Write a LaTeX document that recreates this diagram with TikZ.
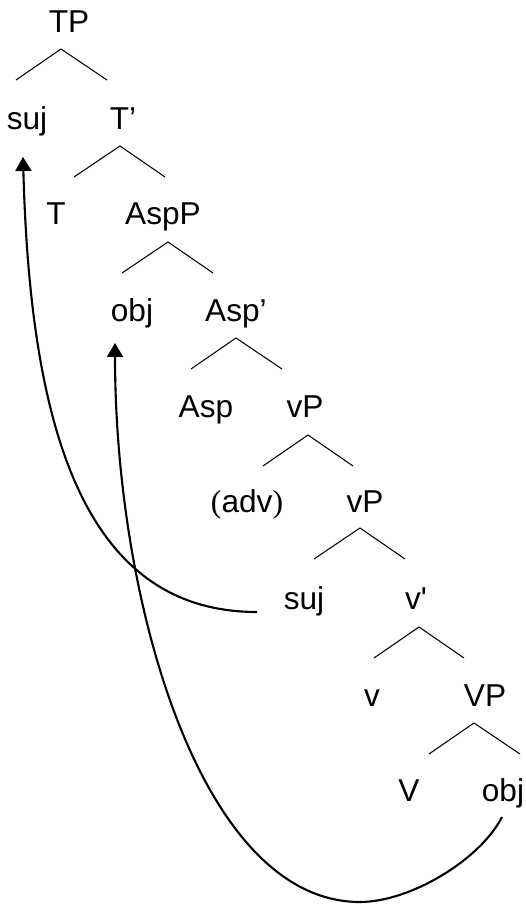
\documentclass[tikz,border=0pt]{standalone}
\usepackage[svgnames]{xcolor}
\usepackage{fontspec}
\setmainfont{Liberation Sans}
\newfontfamily\parfont{Liberation Serif}
\usepackage{tikz}
\usetikzlibrary{arrows.meta}
\tikzstyle{none}=[inner sep=0pt]
\tikzstyle{word}=[inner sep=0pt,anchor=base,font=\fontsize{18}{22}\selectfont]
\tikzstyle{simple}=[-,draw=Black,line width=0.6pt]
\tikzstyle{move}=[-{Triangle[width=0.32cm,length=0.28cm]},draw=Black,line width=1.2pt]

\begin{document}
\begin{tikzpicture}
  \useasboundingbox (0, 0) rectangle (10.52, 18.18);
  \node [style=word] (0) at (1.38, 17.52) {TP};
  \node [style=none] (1) at (1.22, 17.20) {};
  \node [style=none] (2) at (0.32, 16.58) {};
  \node [style=none] (3) at (2.14, 16.58) {};
  \node [style=word] (4) at (0.54, 15.58) {suj};
  \node [style=word] (5) at (2.46, 15.58) {T’};
  \node [style=none] (6) at (2.40, 15.26) {};
  \node [style=none] (7) at (1.48, 14.64) {};
  \node [style=none] (8) at (3.30, 14.64) {};
  \node [style=word] (9) at (1.12, 13.68) {T};
  \node [style=word] (10) at (3.26, 13.68) {AspP};
  \node [style=none] (11) at (3.36, 13.34) {};
  \node [style=none] (12) at (2.44, 12.72) {};
  \node [style=none] (13) at (4.26, 12.72) {};
  \node [style=word] (14) at (2.64, 11.74) {obj};
  \node [style=word] (15) at (4.72, 11.74) {Asp’};
  \node [style=none] (16) at (4.72, 11.42) {};
  \node [style=none] (17) at (3.82, 10.80) {};
  \node [style=none] (18) at (5.64, 10.80) {};
  \node [style=word] (19) at (4.12, 9.82) {Asp};
  \node [style=word] (20) at (6.10, 9.82) {vP};
  \node [style=none] (21) at (6.16, 9.48) {};
  \node [style=none] (22) at (5.26, 8.86) {};
  \node [style=none] (23) at (7.06, 8.86) {};
  \node [style=word] (24) at (4.94, 7.92) {{\parfont(}adv{\parfont)}};
  \node [style=word] (25) at (7.30, 7.92) {vP};
  \node [style=none] (26) at (7.20, 7.62) {};
  \node [style=none] (27) at (6.28, 7.00) {};
  \node [style=none] (28) at (8.10, 7.00) {};
  \node [style=word] (29) at (6.08, 5.98) {suj};
  \node [style=word] (30) at (8.32, 5.98) {v\textquotesingle};
  \node [style=none] (31) at (8.38, 5.64) {};
  \node [style=none] (32) at (7.48, 5.02) {};
  \node [style=none] (33) at (9.28, 5.02) {};
  \node [style=word] (34) at (7.44, 4.04) {v};
  \node [style=word] (35) at (9.70, 4.04) {VP};
  \node [style=none] (36) at (9.48, 3.72) {};
  \node [style=none] (37) at (8.58, 3.10) {};
  \node [style=none] (38) at (10.40, 3.10) {};
  \node [style=word] (39) at (8.18, 2.14) {V};
  \node [style=word] (40) at (10.06, 2.14) {obj};
  \node [style=none] (41) at (5.14, 5.94) {};
  \node [style=none] (42) at (0.46, 15.04) {};
  \node [style=none] (43) at (10.04, 1.84) {};
  \node [style=none] (44) at (7.20, 0.14) {};
  \node [style=none] (45) at (2.30, 11.32) {};
  \draw [style=simple] (1.center) to (2.center);
  \draw [style=simple] (1.center) to (3.center);
  \draw [style=simple] (6.center) to (7.center);
  \draw [style=simple] (6.center) to (8.center);
  \draw [style=simple] (11.center) to (12.center);
  \draw [style=simple] (11.center) to (13.center);
  \draw [style=simple] (16.center) to (17.center);
  \draw [style=simple] (16.center) to (18.center);
  \draw [style=simple] (21.center) to (22.center);
  \draw [style=simple] (21.center) to (23.center);
  \draw [style=simple] (26.center) to (27.center);
  \draw [style=simple] (26.center) to (28.center);
  \draw [style=simple] (31.center) to (32.center);
  \draw [style=simple] (31.center) to (33.center);
  \draw [style=simple] (36.center) to (37.center);
  \draw [style=simple] (36.center) to (38.center);
  \draw [style=move] (41.center) .. controls (1.60, 5.94) and (0.60, 9.78) .. (42.center);
  \draw [style=move] (43.center) .. controls (9.60, 0.98) and (8.20, 0.14) .. (44.center)
    .. controls (4.00, 0.14) and (2.30, 6.18) .. (45.center);
\end{tikzpicture}
\end{document}
